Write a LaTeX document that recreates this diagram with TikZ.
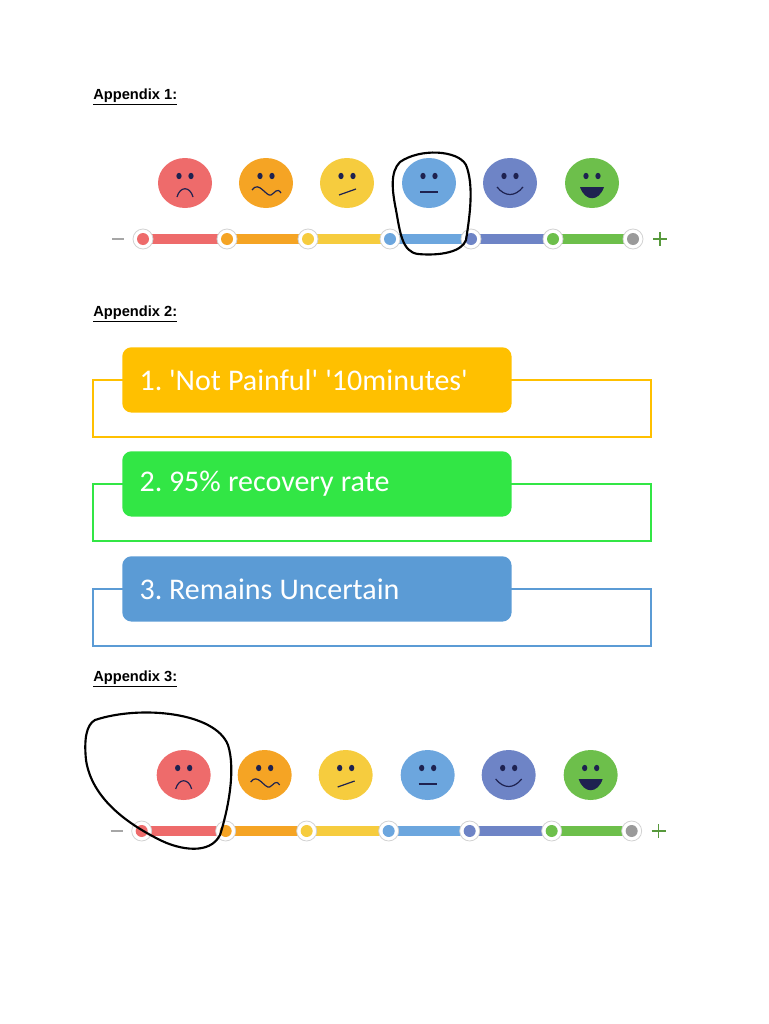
\documentclass[tikz,border=0pt]{standalone}
\usepackage{fontspec}
\setmainfont{Liberation Sans}
\newfontfamily\boxfont{Carlito}
\newcommand{\boxsetup}{\boxfont\fontsize{22.5}{26}\selectfont\spaceskip=0.24em\relax}
\definecolor{cR}{HTML}{EE6B6B}
\definecolor{cO}{HTML}{F5A424}
\definecolor{cY}{HTML}{F6CC3E}
\definecolor{cB}{HTML}{6CA6DE}
\definecolor{cP}{HTML}{6E84C6}
\definecolor{cG}{HTML}{6DBF4B}
\definecolor{cGr}{HTML}{9A9A9A}
\definecolor{eye}{HTML}{1E2250}
\definecolor{bxO}{HTML}{FFC000}
\definecolor{bxG}{HTML}{32E645}
\definecolor{bxB}{HTML}{5B9BD5}
\tikzset{
 lbl/.style={anchor=west,font=\bfseries\fontsize{11}{13}\selectfont,inner sep=0pt},
 fill box/.style={rounded corners=7pt,inner ysep=0pt,inner xsep=13pt,text=white,minimum width=292pt,minimum height=49pt,text width=266pt,align=left},
 mouth/.style={line width=0.9pt,eye},
}
\newcommand{\facerow}[1]{%
 \begin{scope}[#1]
 \foreach \x/\c in {185/cR,266/cO,347/cY,429/cB,510/cP,592/cG}{
   \fill[\c] (\x,183) ellipse (27 and 25);
   \fill[eye] (\x-6,176) ellipse (2.6 and 3.2);
   \fill[eye] (\x+6,176) ellipse (2.6 and 3.2);
 }
 \draw[mouth] (177,197) .. controls (180,186) and (190,186) .. (193,197);
 \draw[mouth] (252,190) .. controls (259,180) and (266,197) .. (271,195) .. controls (275,193) and (277,187) .. (281,193);
 \draw[mouth] (339,195) -- (356,189);
 \draw[mouth] (420,192) -- (438,192);
 \draw[mouth] (497,187) .. controls (505,197) and (515,197) .. (523,187);
 \fill[eye] (580,187) .. controls (585,202) and (599,202) .. (604,187) -- cycle;
 \foreach \a/\b/\c in {143/227/cR,227/308/cO,308/390/cY,390/471/cB,471/553/cP,553/633/cG}
   \fill[\c] (\a,234) rectangle (\b,244);
 \foreach \x/\c in {143/cR,227/cO,308/cY,390/cB,471/cP,553/cG,633/cGr}{
   \fill[white] (\x,239) circle (10);
   \draw[gray!35,line width=0.6pt] (\x,239) circle (10);
   \fill[\c] (\x,239) circle (6);
 }
 \draw[gray!70,line width=1pt] (112,239) -- (124,239);
 \draw[cG!80!black,line width=1pt] (653,239) -- (667,239) (660,232) -- (660,246);
 \end{scope}}
\begin{document}
\begin{tikzpicture}[x=0.75pt,y=-0.75pt]
\useasboundingbox (0,0) rectangle (768,1024);
\node[lbl] (a1) at (93,97) {\underline{Appendix 1:}};
\node[lbl] (a2) at (93,314) {\underline{Appendix 2:}};
\node[lbl] (a3) at (93,679) {\underline{Appendix 3:}};
\facerow{}
\draw[line width=1.6pt,line join=round] (400,162) .. controls (420,148) and (458,150) .. (466,165)
  .. controls (474,185) and (470,215) .. (466,240) .. controls (462,252) and (440,256) .. (418,254)
  .. controls (402,252) and (400,232) .. (396,210) .. controls (392,190) and (390,172) .. (400,162);
\facerow{xshift=-1pt,yshift=-444pt}
\draw[line width=1.6pt,line join=round] (95,720) .. controls (140,705) and (215,712) .. (228,745)
  .. controls (236,770) and (228,810) .. (220,835) .. controls (210,855) and (180,850) .. (160,840)
  .. controls (130,825) and (92,800) .. (86,760) .. controls (84,740) and (86,725) .. (95,720);
\foreach \i/\t/\c/\yo in {1/{1. 'Not Painful' '10minutes'}/bxO/347,2/{2. 95\% recovery rate}/bxG/451,3/{3. Remains Uncertain}/bxB/556}{
  \draw[\c,line width=0.8pt] (93,\yo+33) rectangle (651,\yo+90);
  \node[fill box,fill=\c,anchor=north west] (b\i) at (122,\yo) {\boxsetup\t};
}
\end{tikzpicture}
\end{document}
